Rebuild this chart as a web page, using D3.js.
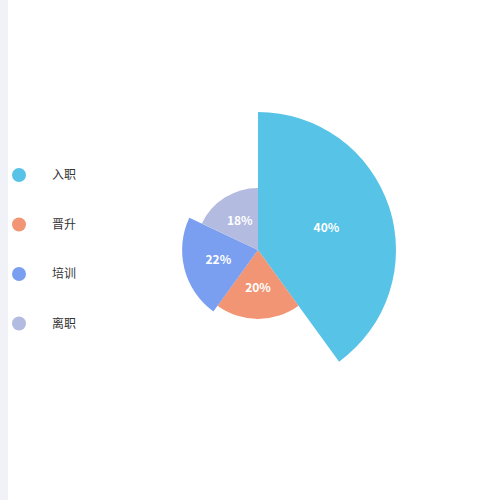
<!DOCTYPE html>
<html><head><meta charset="utf-8">
<script src="https://cdn.jsdelivr.net/npm/d3@7"></script>
<style>body{margin:0;background:#fff}svg{display:block}</style>
</head><body>
<svg id="c" width="500" height="500"></svg>
<script>
const categories = ["入职","晋升","培训","离职"];
const values = [40,20,22,18];
const colors = ["#56c3e7","#f19575","#7a9ff0","#b3bbe0"];

const svg = d3.select("#c");
svg.append("rect").attr("x",0).attr("y",0).attr("width",8).attr("height",500).attr("fill","#f1f2f7");
const cx=258, cy=250;
const total = d3.sum(values);
const rScale = d3.scaleLinear().domain([0,40]).range([0,138]);
const pie = d3.pie().sort(null).value(d=>d)(values);
const g = svg.append("g").attr("transform",`translate(${cx},${cy})`);
g.selectAll("path").data(pie).join("path")
  .attr("d", d=>d3.arc().innerRadius(0).outerRadius(rScale(d.data))(d))
  .attr("fill",(d,i)=>colors[i]);
g.selectAll("text").data(pie).join("text")
  .attr("transform", d=>{const r=rScale(d.data)/2+3;const a=(d.startAngle+d.endAngle)/2;return `translate(${r*Math.sin(a)},${-r*Math.cos(a)})`;})
  .attr("text-anchor","middle").attr("dy","0.35em")
  .attr("fill","#fff").attr("font-family","Noto Sans CJK SC, sans-serif").attr("font-size",12).attr("font-weight","bold")
  .text(d=>Math.round(d.data/total*100)+"%");
const lg = svg.append("g");
categories.forEach((c,i)=>{
  const y=175+i*49.5;
  lg.append("circle").attr("cx",19).attr("cy",y).attr("r",7).attr("fill",colors[i]);
  lg.append("text").attr("x",52).attr("y",y).attr("dy","0.35em").attr("font-size",12)
    .attr("font-family","Noto Sans CJK SC, sans-serif").attr("fill","#333").text(c);
});
</script>
</body></html>
